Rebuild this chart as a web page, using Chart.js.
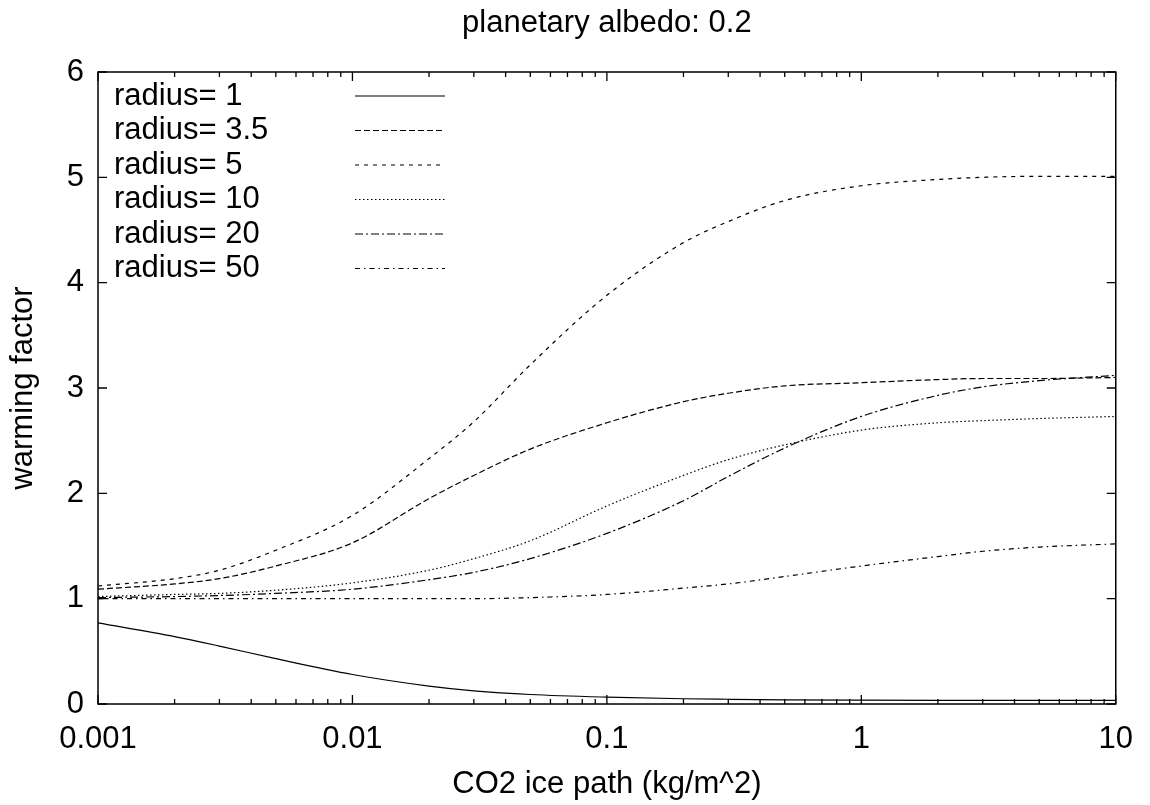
<!DOCTYPE html>
<html>
<head>
<meta charset="utf-8">
<script src="https://cdn.jsdelivr.net/npm/chart.js@4.4.0/dist/chart.umd.min.js"></script>
<style>
  html, body { margin: 0; padding: 0; background: #fff; }
</style>
</head>
<body>
<canvas id="albedoChart" width="1150" height="805"></canvas>
<script>
// CO2 ice path (kg/m^2) sample points
const icePath = [0.001, 0.002, 0.003, 0.005, 0.01, 0.02, 0.03, 0.05, 0.1, 0.2, 0.3, 0.5, 1, 2, 3, 5, 10];

// warming factor per particle radius
const radius1  = [0.77, 0.64, 0.55, 0.43, 0.28, 0.17, 0.125, 0.09, 0.065, 0.05, 0.045, 0.04, 0.037, 0.035, 0.034, 0.034, 0.034];
const radius35 = [1.09, 1.14, 1.19, 1.31, 1.53, 1.95, 2.17, 2.42, 2.67, 2.87, 2.95, 3.02, 3.05, 3.08, 3.09, 3.09, 3.10];
const radius5  = [1.12, 1.19, 1.27, 1.46, 1.79, 2.33, 2.68, 3.22, 3.88, 4.38, 4.58, 4.78, 4.92, 4.98, 5.00, 5.01, 5.01];
const radius10 = [1.02, 1.04, 1.05, 1.08, 1.15, 1.27, 1.38, 1.55, 1.88, 2.17, 2.32, 2.46, 2.60, 2.67, 2.69, 2.71, 2.73];
const radius20 = [1.01, 1.02, 1.03, 1.05, 1.09, 1.18, 1.25, 1.38, 1.62, 1.93, 2.16, 2.43, 2.73, 2.93, 3.01, 3.07, 3.12];
const radius50 = [1.00, 1.00, 1.00, 1.00, 1.00, 1.00, 1.00, 1.01, 1.04, 1.10, 1.14, 1.21, 1.31, 1.40, 1.45, 1.49, 1.52];

const seriesLabels = ['radius= 1', 'radius= 3.5', 'radius= 5', 'radius= 10', 'radius= 20', 'radius= 50'];
const seriesValues = [radius1, radius35, radius5, radius10, radius20, radius50];

// tick labels
const xTicks = [0.001, 0.01, 0.1, 1, 10];
const yTicks = [0, 1, 2, 3, 4, 5, 6];

const chartTitle = 'planetary albedo: 0.2';
const xTitle = 'CO2 ice path (kg/m^2)';
const yTitle = 'warming factor';

// gnuplot-like line types
const dashes = [[], [6, 3], [4, 5], [1.5, 2.5], [8, 3, 2, 3], [5, 4, 1.5, 4]];
const FONT = '"Liberation Sans", Arial, sans-serif';
const FS = 31;

const datasets = seriesLabels.map((label, i) => ({
  label: label,
  data: icePath.map((x, j) => ({ x: x, y: seriesValues[i][j] })),
  borderColor: '#000',
  borderWidth: 1.2,
  borderDash: dashes[i],
  pointRadius: 0,
  fill: false,
  cubicInterpolationMode: 'monotone'
}));

// frame, inward ticks, key and titles, drawn the gnuplot way
const gnuplotDecor = {
  id: 'gnuplotDecor',
  afterDraw(chart) {
    const ctx = chart.ctx;
    const a = chart.chartArea;
    const xs = chart.scales.x;
    const ys = chart.scales.y;
    ctx.save();
    ctx.strokeStyle = '#000';
    ctx.lineWidth = 1.5;
    ctx.setLineDash([]);
    ctx.strokeRect(a.left, a.top, a.right - a.left, a.bottom - a.top);

    ctx.lineWidth = 1.3;
    ctx.beginPath();
    // x ticks, major and minor, on bottom and top
    for (let d = 0; d < xTicks.length; d++) {
      const dec = xTicks[d];
      const px = xs.getPixelForValue(dec);
      ctx.moveTo(px, a.bottom); ctx.lineTo(px, a.bottom - 9);
      ctx.moveTo(px, a.top); ctx.lineTo(px, a.top + 9);
      if (d < xTicks.length - 1) {
        for (let m = 2; m <= 9; m++) {
          const mx = xs.getPixelForValue(dec * m);
          ctx.moveTo(mx, a.bottom); ctx.lineTo(mx, a.bottom - 5);
          ctx.moveTo(mx, a.top); ctx.lineTo(mx, a.top + 5);
        }
      }
    }
    // y ticks on left and right
    yTicks.forEach(v => {
      const py = ys.getPixelForValue(v);
      ctx.moveTo(a.left, py); ctx.lineTo(a.left + 9, py);
      ctx.moveTo(a.right, py); ctx.lineTo(a.right - 9, py);
    });
    ctx.stroke();

    // key
    ctx.font = FS + 'px ' + FONT;
    ctx.fillStyle = '#000';
    ctx.textAlign = 'left';
    ctx.textBaseline = 'middle';
    chart.data.datasets.forEach((ds, i) => {
      const ry = 96 + i * 34.5;
      ctx.fillText(ds.label, 114, ry);
      ctx.beginPath();
      ctx.lineWidth = 1.2;
      ctx.setLineDash(ds.borderDash);
      ctx.moveTo(355, ry);
      ctx.lineTo(445, ry);
      ctx.stroke();
    });
    ctx.setLineDash([]);

    // titles
    ctx.textAlign = 'center';
    ctx.fillText(chartTitle, (a.left + a.right) / 2, 23);
    ctx.fillText(xTitle, (a.left + a.right) / 2, 784);
    ctx.translate(23, (a.top + a.bottom) / 2);
    ctx.rotate(-Math.PI / 2);
    ctx.fillText(yTitle, 0, 0);
    ctx.restore();
  }
};

new Chart(document.getElementById('albedoChart'), {
  type: 'line',
  data: { datasets: datasets },
  options: {
    responsive: false,
    animation: false,
    devicePixelRatio: 1,
    layout: { padding: { top: 72, right: 30, left: 0, bottom: 0 } },
    scales: {
      x: {
        type: 'logarithmic',
        min: 0.001,
        max: 10,
        afterBuildTicks: scale => { scale.ticks = xTicks.map(v => ({ value: v })); },
        afterFit: scale => { scale.height = 101; },
        grid: { display: false, drawTicks: false },
        border: { display: false },
        ticks: {
          autoSkip: false,
          maxRotation: 0,
          padding: 17,
          color: '#000',
          font: { family: FONT, size: FS },
          callback: v => String(v)
        }
      },
      y: {
        type: 'linear',
        min: 0,
        max: 6,
        afterBuildTicks: scale => { scale.ticks = yTicks.map(v => ({ value: v })); },
        afterFit: scale => { scale.width = 98; },
        grid: { display: false, drawTicks: false },
        border: { display: false },
        ticks: {
          padding: 14,
          color: '#000',
          font: { family: FONT, size: FS },
          callback: v => String(v)
        }
      }
    },
    plugins: {
      legend: { display: false },
      tooltip: { enabled: false },
      title: { display: false }
    }
  },
  plugins: [gnuplotDecor]
});
</script>
</body>
</html>
